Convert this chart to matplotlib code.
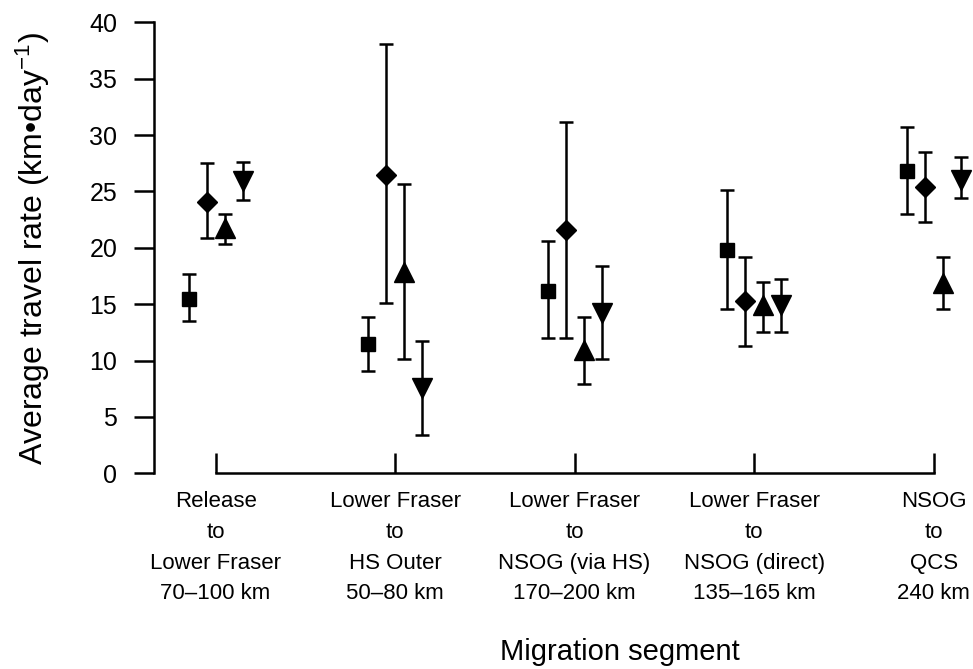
import numpy as np
import matplotlib
matplotlib.use("Agg")
import matplotlib.pyplot as plt

plt.rcParams['font.family'] = ['Liberation Sans', 'DejaVu Sans']
plt.rcParams['mathtext.fontset'] = 'custom'
plt.rcParams['mathtext.rm'] = 'Liberation Sans'
plt.rcParams['mathtext.default'] = 'regular'

# сегменты миграции
segments = ["Release\nto\nLower Fraser\n70–100 km",
            "Lower Fraser\nto\nHS Outer\n50–80 km",
            "Lower Fraser\nto\nNSOG (via HS)\n170–200 km",
            "Lower Fraser\nto\nNSOG (direct)\n135–165 km",
            "NSOG\nto\nQCS\n240 km"]

# средние значения и границы интервалов (км/день)
square_mean = [15.5, 11.5, 16.2, 19.8, 26.8]
square_hi = [17.7, 13.9, 20.6, 25.1, 30.7]
square_lo = [13.5, 9.1, 12.0, 14.6, 23.0]

diamond_mean = [24.1, 26.5, 21.6, 15.25, 25.4]
diamond_hi = [27.55, 38.05, 31.15, 19.15, 28.5]
diamond_lo = [20.85, 15.1, 12.0, 11.3, 22.3]

up_mean = [21.8, 17.9, 10.9, 14.9, 16.9]
up_hi = [23.0, 25.7, 13.9, 17.0, 19.15]
up_lo = [20.3, 10.1, 7.9, 12.5, 14.6]

down_mean = [25.9, 7.6, 14.2, 14.9, 26.0]
down_hi = [27.6, 11.7, 18.4, 17.2, 28.1]
down_lo = [24.2, 3.4, 10.1, 12.5, 24.4]

series = [
    ('s', 10, -0.15, square_mean, square_lo, square_hi),
    ('D', 10, -0.05, diamond_mean, diamond_lo, diamond_hi),
    ('^', 14, 0.05, up_mean, up_lo, up_hi),
    ('v', 14, 0.15, down_mean, down_lo, down_hi),
]

lw = 1.8

fig = plt.figure(figsize=(9.73, 6.69), dpi=100)
ax = fig.add_axes([0.1583, 0.2925, 0.8407, 0.6741])

x = np.arange(1, len(segments) + 1)
for marker, ms, shift, mean, lo, hi in series:
    mean = np.array(mean)
    yerr = [mean - np.array(lo), np.array(hi) - mean]
    ax.errorbar(x + shift, mean, yerr=yerr, fmt=marker, color='black',
                ms=ms, elinewidth=lw, capsize=5, capthick=lw)

ax.set_xlim(0.657, 5.214)
ax.set_ylim(0, 40)
ax.set_yticks(np.arange(0, 41, 5))
ax.set_xticks(x)
ax.set_xticklabels(segments, fontsize=16, linespacing=1.6)

ax.spines['top'].set_visible(False)
ax.spines['right'].set_visible(False)
ax.spines['left'].set_linewidth(lw)
ax.spines['bottom'].set_linewidth(lw)
ax.spines['bottom'].set_bounds(1, 5)

ax.tick_params(axis='y', direction='out', length=14.4, width=lw, pad=12, labelsize=18)
ax.tick_params(axis='x', direction='in', length=14.4, width=lw, pad=13)

ax.set_xlabel('Migration segment', fontsize=21)
ax.xaxis.set_label_coords(0.57, -0.366)
ax.set_ylabel(r'Average travel rate (km•day$^{-1}$)', fontsize=23)
ax.yaxis.set_label_coords(-0.125, 0.498)

fig.savefig('out.png', dpi=100)
